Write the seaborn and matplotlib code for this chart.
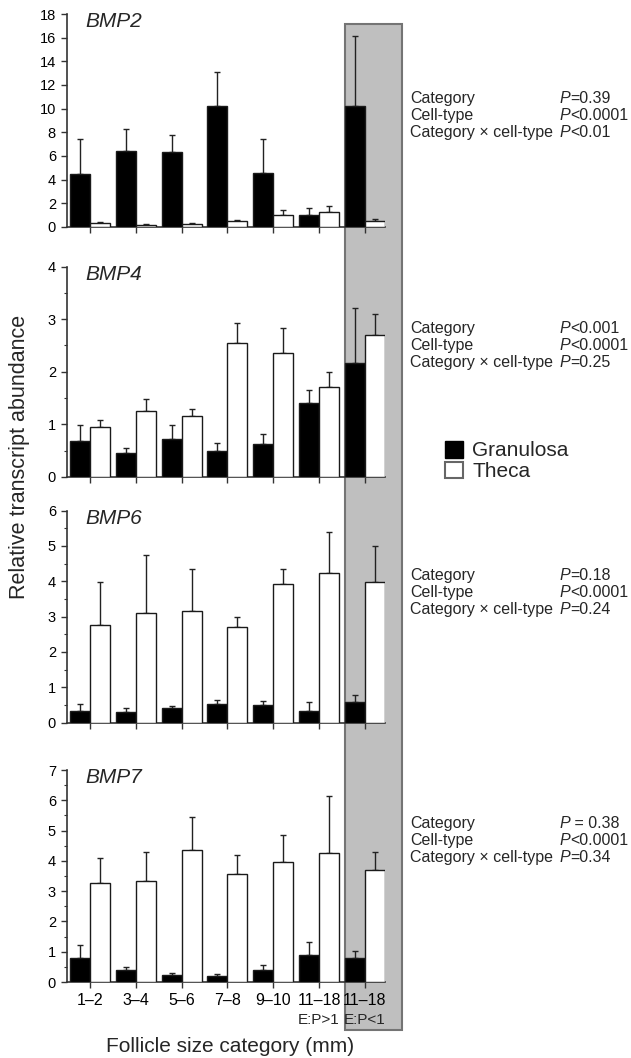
import numpy as np
import pandas as pd
import matplotlib
matplotlib.use("Agg")
import matplotlib.pyplot as plt
import seaborn as sns
from matplotlib.patches import Rectangle, Patch
from matplotlib.ticker import MultipleLocator

# ---------------- data ----------------
categories = ["1–2", "3–4", "5–6", "7–8", "9–10", "11–18", "11–18 "]
sub_labels = ["", "", "", "", "", "E:P>1", "E:P<1"]
cell_types = ["Granulosa", "Theca"]
genes = ["BMP2", "BMP4", "BMP6", "BMP7"]

bmp2_gran = [4.45, 6.4, 6.3, 10.2, 4.55, 1.05, 10.2]
bmp2_gran_upper = [7.45, 8.3, 7.8, 13.1, 7.45, 1.6, 16.1]
bmp2_theca = [0.34, 0.14, 0.28, 0.54, 1.05, 1.3, 0.54]
bmp2_theca_upper = [0.42, 0.24, 0.3, 0.62, 1.42, 1.78, 0.65]

bmp4_gran = [0.68, 0.45, 0.73, 0.5, 0.62, 1.4, 2.17]
bmp4_gran_upper = [0.98, 0.56, 0.98, 0.64, 0.81, 1.65, 3.22]
bmp4_theca = [0.95, 1.26, 1.15, 2.54, 2.35, 1.71, 2.7]
bmp4_theca_upper = [1.08, 1.48, 1.29, 2.92, 2.84, 2.0, 3.09]

bmp6_gran = [0.33, 0.29, 0.42, 0.54, 0.49, 0.33, 0.58]
bmp6_gran_upper = [0.54, 0.41, 0.48, 0.64, 0.61, 0.58, 0.79]
bmp6_theca = [2.76, 3.09, 3.17, 2.72, 3.92, 4.22, 3.97]
bmp6_theca_upper = [3.97, 4.73, 4.35, 3.0, 4.34, 5.39, 5.01]

bmp7_gran = [0.8, 0.41, 0.22, 0.21, 0.41, 0.9, 0.78]
bmp7_gran_upper = [1.22, 0.49, 0.3, 0.25, 0.55, 1.32, 1.02]
bmp7_theca = [3.27, 3.33, 4.35, 3.57, 3.96, 4.25, 3.71]
bmp7_theca_upper = [4.1, 4.29, 5.46, 4.2, 4.84, 6.14, 4.3]

y_max = [18, 4, 6, 7]
y_major = [2, 1, 1, 1]
y_minor = [None, 0.5, 0.5, 0.5]

stats_labels = ["Category", "Cell-type", "Category × cell-type"]
stats_p = [
    ["=0.39", "<0.0001", "<0.01"],
    ["<0.001", "<0.0001", "=0.25"],
    ["=0.18", "<0.0001", "=0.24"],
    [" = 0.38", "<0.0001", "=0.34"],
]

gran = [bmp2_gran, bmp4_gran, bmp6_gran, bmp7_gran]
gran_up = [bmp2_gran_upper, bmp4_gran_upper, bmp6_gran_upper, bmp7_gran_upper]
theca = [bmp2_theca, bmp4_theca, bmp6_theca, bmp7_theca]
theca_up = [bmp2_theca_upper, bmp4_theca_upper, bmp6_theca_upper, bmp7_theca_upper]

# ---------------- style ----------------
sns.set_theme(style="ticks")
FAM = ["Liberation Sans", "DejaVu Sans"]
plt.rcParams["font.family"] = FAM
plt.rcParams["axes.edgecolor"] = "#333333"
plt.rcParams["xtick.color"] = "#333333"
plt.rcParams["ytick.color"] = "#333333"
plt.rcParams["xtick.labelcolor"] = "black"
plt.rcParams["ytick.labelcolor"] = "black"

W, H = 631, 1058
fig = plt.figure(figsize=(W / 100, H / 100), dpi=100)

def fx(px):
    return px / W

def fy(py):
    return 1 - py / H

ax_left, ax_right = 67, 385
panels_px = [(14, 227), (266.5, 477), (510.5, 722.7), (770, 982)]
stats_y = [97, 327, 574, 822]   # visual centre of first line
line_gap = 17
STAT_FS = 11.5
BASE_OFF = 5.6  # centre -> baseline offset in px

axes = []
for i, gene in enumerate(genes):
    top, bot = panels_px[i]
    ax = fig.add_axes([fx(ax_left), fy(bot), fx(ax_right - ax_left), (bot - top) / H])
    ax.set_facecolor("none")
    df = pd.DataFrame({
        "category": categories * 2,
        "cell": ["Granulosa"] * 7 + ["Theca"] * 7,
        "value": list(gran[i]) + list(theca[i]),
        "upper": list(gran_up[i]) + list(theca_up[i]),
    })
    sns.barplot(data=df, x="category", y="value", hue="cell",
                order=categories, hue_order=cell_types,
                palette={"Granulosa": "black", "Theca": "white"},
                edgecolor="#1a1a1a", linewidth=1.0, width=0.874,
                saturation=1, errorbar=None, legend=False, ax=ax, zorder=3)
    # error bars (upper only) at bar centres
    pts = ax.patches
    xs, ys, ups = [], [], []
    for j, p in enumerate(pts[:14]):
        xs.append(p.get_x() + p.get_width() / 2)
        ys.append(df["value"].iloc[j])
        ups.append(df["upper"].iloc[j] - df["value"].iloc[j])
    ax.errorbar(xs, ys, yerr=[np.zeros(len(ups)), ups], fmt="none",
                ecolor="#222222", elinewidth=1.0, capsize=2.2, capthick=1.0, zorder=2)

    ax.set_xlim(-0.502, 6.44)
    ax.set_ylim(0, y_max[i])
    ax.yaxis.set_major_locator(MultipleLocator(y_major[i]))
    if y_minor[i]:
        ax.yaxis.set_minor_locator(MultipleLocator(y_minor[i]))
    sns.despine(ax=ax)
    for s in ["left", "bottom"]:
        ax.spines[s].set_linewidth(1.2)
    ax.tick_params(axis="y", which="major", length=4, width=1.0, pad=4, labelsize=10.5)
    ax.tick_params(axis="y", which="minor", length=2.5, width=0.8)
    ax.tick_params(axis="x", which="major", length=4, width=1.0, pad=4, labelsize=11.5)
    ax.set_xlabel("")
    ax.set_ylabel("")
    if i < 3:
        ax.set_xticklabels([])
    else:
        ax.set_xticklabels([c.strip() for c in categories])
        for k, s in enumerate(sub_labels):
            if s:
                ax.annotate(s, xy=(k, 0), xycoords=("data", "axes fraction"),
                            xytext=(0, -27.5), textcoords="offset points",
                            ha="center", va="center", fontsize=11, family=FAM)
    ax.text(0.057, 0.963, gene, transform=ax.transAxes, fontsize=15,
            fontstyle="italic", ha="left", va="center", family=FAM)

    # statistics text
    for r in range(3):
        yb = stats_y[i] + r * line_gap + BASE_OFF
        fig.text(fx(410), fy(yb), stats_labels[r], fontsize=STAT_FS, ha="left", va="baseline")
        fig.text(fx(560), fy(yb), "P", fontsize=STAT_FS, fontstyle="italic", ha="left", va="baseline")
        fig.text(fx(570.5), fy(yb), stats_p[i][r], fontsize=STAT_FS, ha="left", va="baseline")
    axes.append(ax)

# grey highlight box behind the last category
ax4 = axes[-1]
last_bar = ax4.patches[6]
disp = ax4.transData.transform((last_bar.get_x(), 0))
left_fig = fig.transFigure.inverted().transform(disp)[0]
box = Rectangle((left_fig, fy(1030)), fx(402) - left_fig, fy(24) - fy(1030),
                transform=fig.transFigure, facecolor="#bfbfbf", edgecolor="#747474",
                linewidth=1.5, zorder=-1)
fig.patches.append(box)

# legend
handles = [Patch(facecolor="black", edgecolor="black", linewidth=1.0),
           Patch(facecolor="white", edgecolor="#666666", linewidth=1.5)]
fig.legend(handles, cell_types, loc="center left", bbox_to_anchor=(fx(445), fy(461)),
           frameon=False, fontsize=15, handlelength=0.85, handleheight=0.85,
           handletextpad=0.45, labelspacing=0.05, borderpad=0, borderaxespad=0)

fig.text(fx(20), fy(457), "Relative transcript abundance", rotation=90,
         fontsize=15.5, ha="center", va="center")
fig.text(fx(230), fy(1046), "Follicle size category (mm)", fontsize=15,
         ha="center", va="center")

fig.savefig("out.png", dpi=100)
